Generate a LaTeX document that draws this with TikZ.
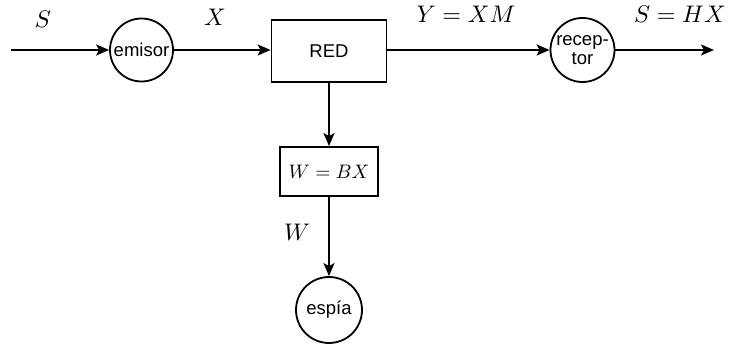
\documentclass[tikz,border=0pt]{standalone}
\usepackage{graphicx}
\usepackage{fontspec}
\setmainfont{Liberation Sans}
\usetikzlibrary{arrows.meta}
\newcommand{\bigmath}[2]{\scalebox{#1}{$#2$}}
\begin{document}
\begin{tikzpicture}[x=1pt,y=-1pt,
  every node/.style={font=\fontsize{18.5}{21}\selectfont},
  conn/.style={line width=1.9pt,-{Stealth[length=13pt,width=11pt,inset=3pt]}},
  circ/.style={circle,draw,line width=1.8pt,inner sep=0pt},
  blk/.style={rectangle,draw,line width=1.8pt,inner sep=0pt},
  lbl/.style={font=\normalsize}]
\useasboundingbox (0,0) rectangle (732,347);
% signal chain
\coordinate (in) at (11,50);
\node[circ,minimum size=63pt] (emisor) at (141.5,50) {emisor};
\node[blk,minimum width=115pt,minimum height=62pt] (red) at (329,51) {RED};
\node[circ,minimum size=64pt,align=center] (rec) at (582.5,50) {recep-\\[-2pt]tor};
\coordinate (out) at (714,50);
% eavesdropper branch
\node[blk,minimum width=98pt,minimum height=49pt,font=\normalsize] (wbx) at (329,171.5) {\bigmath{1.95}{W=BX}};
\node[circ,minimum size=66pt] (espia) at (329,310) {espía};
% connectors
\draw[conn] (in) -- (emisor);
\draw[conn] (emisor) -- (emisor -| red.west);
\draw[conn] (red.east |- rec.west) -- (rec);
\draw[conn] (rec) -- (out);
\draw[conn] (red) -- (wbx);
\draw[conn] (wbx) -- (espia);
% signal labels
\node[lbl] (ls) at (43,19) {\bigmath{2.4}{S}};
\node[lbl] (lx) at (215,17) {\bigmath{2.4}{X}};
\node[lbl] (ly) at (466,14) {\bigmath{2.4}{Y=XM}};
\node[lbl] (lsh) at (680,14) {\bigmath{2.4}{S=HX}};
\node[lbl] (lw) at (297,232) {\bigmath{2.4}{W}};
\end{tikzpicture}
\end{document}
